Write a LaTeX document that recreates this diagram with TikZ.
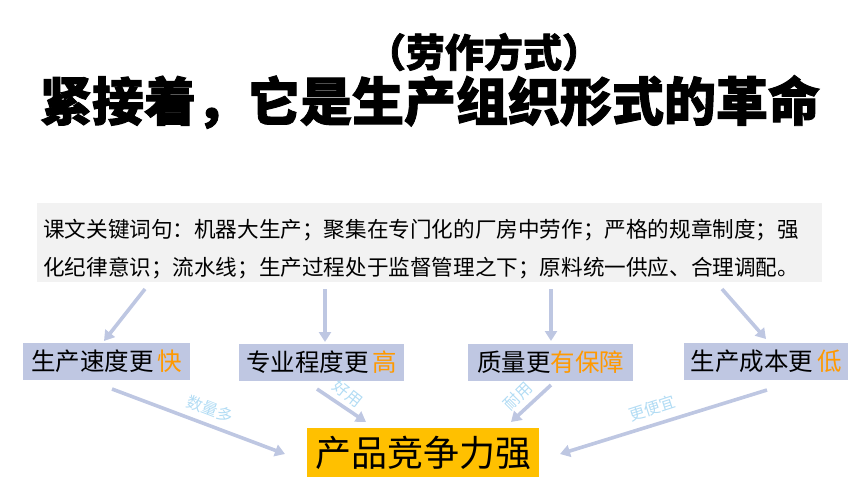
\documentclass[tikz,border=0pt]{standalone}
\usepackage{fontspec}
\newfontfamily\cjk{Noto Sans CJK SC}
\newfontfamily\cjkbold{Noto Sans CJK SC}[BoldFeatures={FakeBold=1.8}]
\usetikzlibrary{arrows.meta}
\definecolor{boxblue}{RGB}{191,199,226}
\definecolor{arrblue}{RGB}{190,199,226}
\definecolor{lbl}{RGB}{178,220,244}
\definecolor{hl}{RGB}{255,153,0}
\definecolor{gold}{RGB}{255,192,0}
\definecolor{graybg}{RGB}{242,242,242}
\tikzset{
  kwline/.style={anchor=west,inner sep=0pt,font=\cjk\fontsize{21.6}{21.6}\selectfont},
  outbox/.style={fill=boxblue,inner sep=0pt,minimum height=37pt,font=\cjk\fontsize{24.5}{24.5}\selectfont},
  arr/.style={draw=arrblue,line width=3.6pt,-{Triangle[length=10pt,width=12pt]}},
  lab/.style={text=lbl,inner sep=0pt,font=\cjk\fontsize{16}{16}\selectfont}
}
\begin{document}
\begin{tikzpicture}[x=1pt,y=-1pt]
\useasboundingbox (0,0) rectangle (860,484);
% title
\node[inner sep=0pt,font=\cjkbold\bfseries\fontsize{39}{39}\selectfont] (t1) at (484,52) {（劳作方式）};
\node[inner sep=0pt,font=\cjkbold\bfseries\fontsize{52}{52}\selectfont] (t2) at (430,102) {紧接着，它是生产组织形式的革命};
% keyword box
\path[fill=graybg] (37,203) rectangle (822,282);
\node[inner sep=0pt,minimum width=785pt,minimum height=79pt] (kw) at (429.5,242.5) {};
\node[kwline] (kw1) at (43,230) {课文关键词句：机器大生产；聚集在专门化的厂房中劳作；严格的规章制度；强};
\node[kwline] (kw2) at (43,268) {化纪律意识；流水线；生产过程处于监督管理之下；原料统一供应、合理调配。};
% result boxes
\node[outbox,minimum width=167pt] (b1) at (106.5,361.5) {生产速度更\hspace{4pt}\textcolor{hl}{快}};
\node[outbox,minimum width=165pt] (b2) at (321.5,362) {专业程度更\hspace{4pt}\textcolor{hl}{高}};
\node[outbox,minimum width=165pt] (b3) at (550.5,362) {质量更\textcolor{hl}{有保障}};
\node[outbox,minimum width=164pt] (b4) at (766,361.5) {生产成本更\hspace{4pt}\textcolor{hl}{低}};
\node[fill=gold,inner sep=0pt,minimum width=232pt,minimum height=49pt,font=\cjk\fontsize{36}{36}\selectfont] (fin) at (423,452.5) {产品竞争力强};
% arrow end points
\coordinate (a1s) at (145,289); \coordinate (a1e) at (104,341);
\coordinate (a2s) at (325,289); \coordinate (a2e) at (325,342);
\coordinate (a3s) at (551,289); \coordinate (a3e) at (551,341);
\coordinate (a4s) at (722,289); \coordinate (a4e) at (766,339);
\coordinate (c1s) at (112,389); \coordinate (c1e) at (285,454);
\coordinate (c2s) at (317,389); \coordinate (c2e) at (366,422);
\coordinate (c3s) at (551,385); \coordinate (c3e) at (511,422);
\coordinate (c4s) at (767,390); \coordinate (c4e) at (560,454);
\draw[arr] (a1s) -- (a1e);
\draw[arr] (a2s) -- (a2e);
\draw[arr] (a3s) -- (a3e);
\draw[arr] (a4s) -- (a4e);
\draw[arr] (c1s) -- (c1e);
\draw[arr] (c2s) -- (c2e);
\draw[arr] (c3s) -- (c3e);
\draw[arr] (c4s) -- (c4e);
% labels
\node[lab,rotate=-21] (l1) at (210,409) {数量多};
\node[lab,rotate=-38] (l2) at (348,394) {好用};
\node[lab,rotate=45] (l3) at (518,396) {耐用};
\node[lab,rotate=18] (l4) at (652,408) {更便宜};
\end{tikzpicture}
\end{document}
